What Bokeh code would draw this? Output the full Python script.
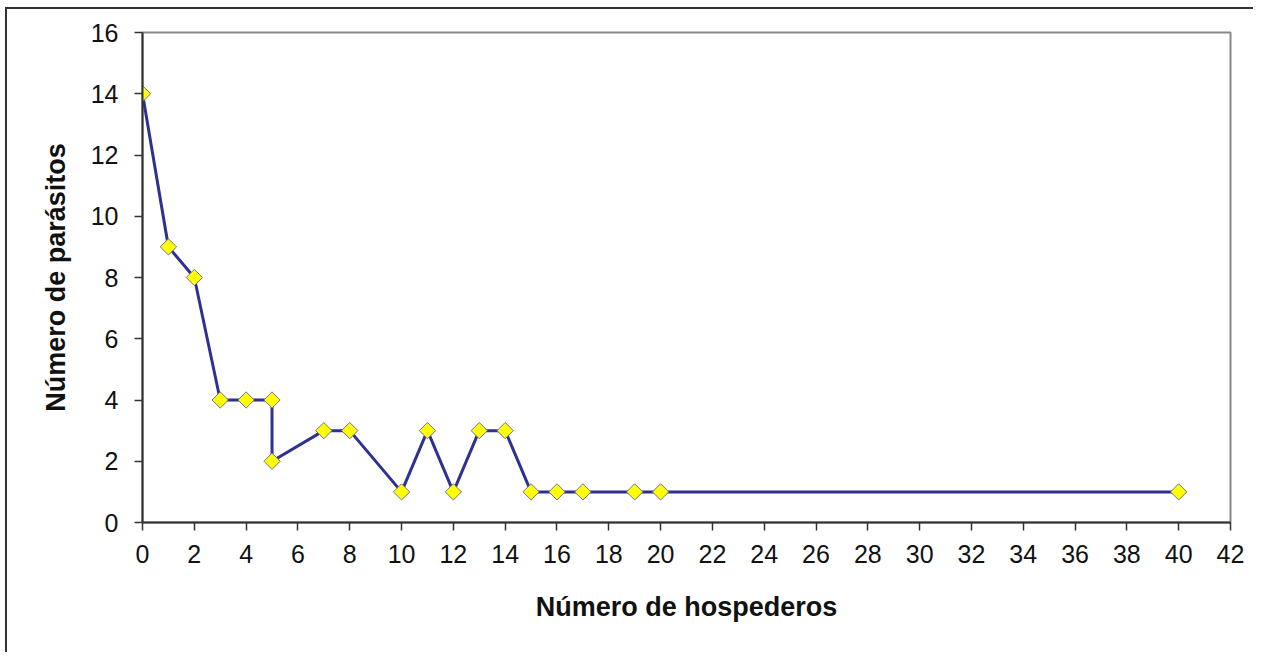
from bokeh.plotting import figure
from bokeh.models import Range1d, FixedTicker
from bokeh.embed import file_html
from bokeh.resources import INLINE
import math

hospederos = [0, 1, 2, 3, 4, 5, 5, 7, 8, 10, 11, 12, 13, 14, 15, 16, 17, 19, 20, 40]
parasitos = [14, 9, 8, 4, 4, 4, 2, 3, 3, 1, 3, 1, 3, 3, 1, 1, 1, 1, 1, 1]
x_ticks = list(range(0, 43, 2))
y_ticks = list(range(0, 17, 2))

p = figure(width=1248, height=645, output_backend="svg", toolbar_location=None,
           x_range=Range1d(0, 42), y_range=Range1d(0, 16),
           min_border_left=135, min_border_top=23, min_border_right=25, min_border_bottom=132)
p.styles = {"border-left": "2px solid #333", "border-top": "2px solid #333",
            "margin-left": "5px", "margin-top": "7px"}

p.xgrid.visible = False
p.ygrid.visible = False
p.outline_line_color = "#888888"
p.outline_line_width = 2

for ax, ticks in ((p.xaxis, x_ticks), (p.yaxis, y_ticks)):
    ax.ticker = FixedTicker(ticks=ticks)
    ax.minor_tick_line_color = None
    ax.major_tick_in = 0
    ax.major_tick_out = 8
    ax.major_tick_line_color = "#333333"
    ax.major_tick_line_width = 1.5
    ax.axis_line_color = "#333333"
    ax.axis_line_width = 2
    ax.major_label_text_font = "Liberation Sans"
    ax.major_label_text_font_size = "25px"
    ax.major_label_text_color = "#111111"
    ax.axis_label_text_font = "Liberation Sans"
    ax.axis_label_text_font_size = "27px"
    ax.axis_label_text_font_style = "bold"
    ax.axis_label_text_color = "#111111"

p.xaxis.major_label_standoff = 14
p.yaxis.major_label_standoff = 16
p.xaxis.axis_label = "Número de hospederos"
p.yaxis.axis_label = "Número de parásitos"
p.xaxis.axis_label_standoff = 26
p.yaxis.axis_label_standoff = 17

p.line(hospederos, parasitos, line_color="#2E3192", line_width=3)
p.scatter(hospederos, parasitos, marker="square", size=11.5, angle=math.pi / 4,
          fill_color="#FFFF00", line_color="#7070A0", line_width=1)

open("out.html", "w").write(file_html(p, INLINE))
